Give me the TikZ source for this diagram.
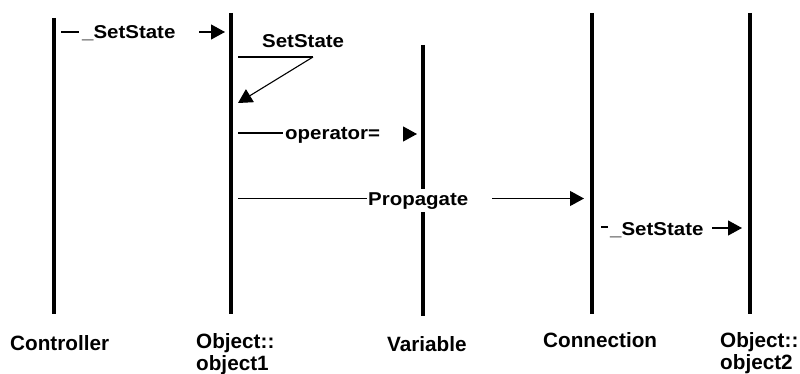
\documentclass[tikz,border=0pt]{standalone}
\usepackage{fontspec}
\setmainfont{Liberation Sans}
\newfontfamily\msgfont{Liberation Sans}[FakeStretch=1.1]
\usetikzlibrary{arrows.meta}
\begin{document}
\begin{tikzpicture}[x=1pt,y=-1pt,
  life/.style={line width=3.5pt},
  msgline/.style={line width=1.1pt},
  arr/.style={msgline,-{Triangle[length=14pt,width=15pt]}},
  lbl/.style={font=\msgfont\fontsize{18.6}{20}\selectfont\bfseries, inner xsep=0pt, inner ysep=3pt, fill=white, anchor=base west},
  lname/.style={font=\fontsize{20.7}{22}\selectfont\bfseries, inner sep=0pt, align=left}]
\useasboundingbox (0,0) rectangle (800,374);
% lifelines
\coordinate (L1t) at (54,18);  \coordinate (L1b) at (54,314);
\coordinate (L2t) at (231,13); \coordinate (L2b) at (231,314);
\coordinate (L3t) at (423,45); \coordinate (L3b) at (423,316);
\coordinate (L4t) at (592,13); \coordinate (L4b) at (592,314);
\coordinate (L5t) at (750,13); \coordinate (L5b) at (750,314);
\draw[life] (L1t) -- (L1b);
\draw[life] (L2t) -- (L2b);
\draw[life] (L3t) -- (L3b);
\draw[life] (L4t) -- (L4b);
\draw[life] (L5t) -- (L5b);
% lifeline names
\node[lname, anchor=base west] (nctrl) at (10,350.5) {Controller};
\node[lname, anchor=north west] (nobj1) at (196,333) {Object::\\object1};
\node[lname, anchor=base west] (nvar) at (387,351) {Variable};
\node[lname, anchor=base west] (nconn) at (543,347) {Connection};
\node[lname, anchor=north west] (nobj2) at (720,332) {Object::\\object2};
% message 1: _SetState  Controller -> Object1
\coordinate (m1a) at (61,32);
\coordinate (m1b) at (199,32);
\coordinate (m1c) at (225,32);
\node[lbl] (m1) at (82,38.5) {\_SetState};
\draw[msgline] (m1a) -- ([xshift=-3pt]m1.west |- m1a);
\draw[arr] (m1b) -- (m1c);
% message 2: SetState self call on Object1
\coordinate (m2a) at (238,57);
\coordinate (m2b) at (313,57);
\coordinate (m2c) at (238,103);
\node[lbl] (m2) at (262,48) {SetState};
\draw[msgline] (m2a) -- (m2b);
\draw[arr] (m2b) -- (m2c);
% message 3: operator=  Object1 -> Variable
\coordinate (m3a) at (238,133);
\coordinate (m3b) at (403,134);
\coordinate (m3c) at (417,134);
\node[lbl] (m3) at (285,139.5) {operator=};
\draw[msgline] (m3a) -- ([xshift=-2pt]m3.west |- m3a);
\draw[arr] (m3b) -- (m3c);
% message 4: Propagate  Object1 -> Connection
\coordinate (m4a) at (238,198.5);
\coordinate (m4b) at (492,198.5);
\coordinate (m4c) at (584,198.5);
\node[lbl] (m4) at (368,205) {Propagate};
\draw[msgline] (m4a) -- ([xshift=-1pt]m4.west |- m4a);
\draw[arr] (m4b) -- (m4c);
% message 5: _SetState  Connection -> Object2
\coordinate (m5a) at (601,227);
\coordinate (m5b) at (712,228);
\coordinate (m5c) at (742,228);
\node[lbl] (m5) at (610,235) {\_SetState};
\draw[msgline] (m5a) -- ([xshift=-2pt]m5.west |- m5a);
\draw[arr] (m5b) -- (m5c);
\end{tikzpicture}
\end{document}
